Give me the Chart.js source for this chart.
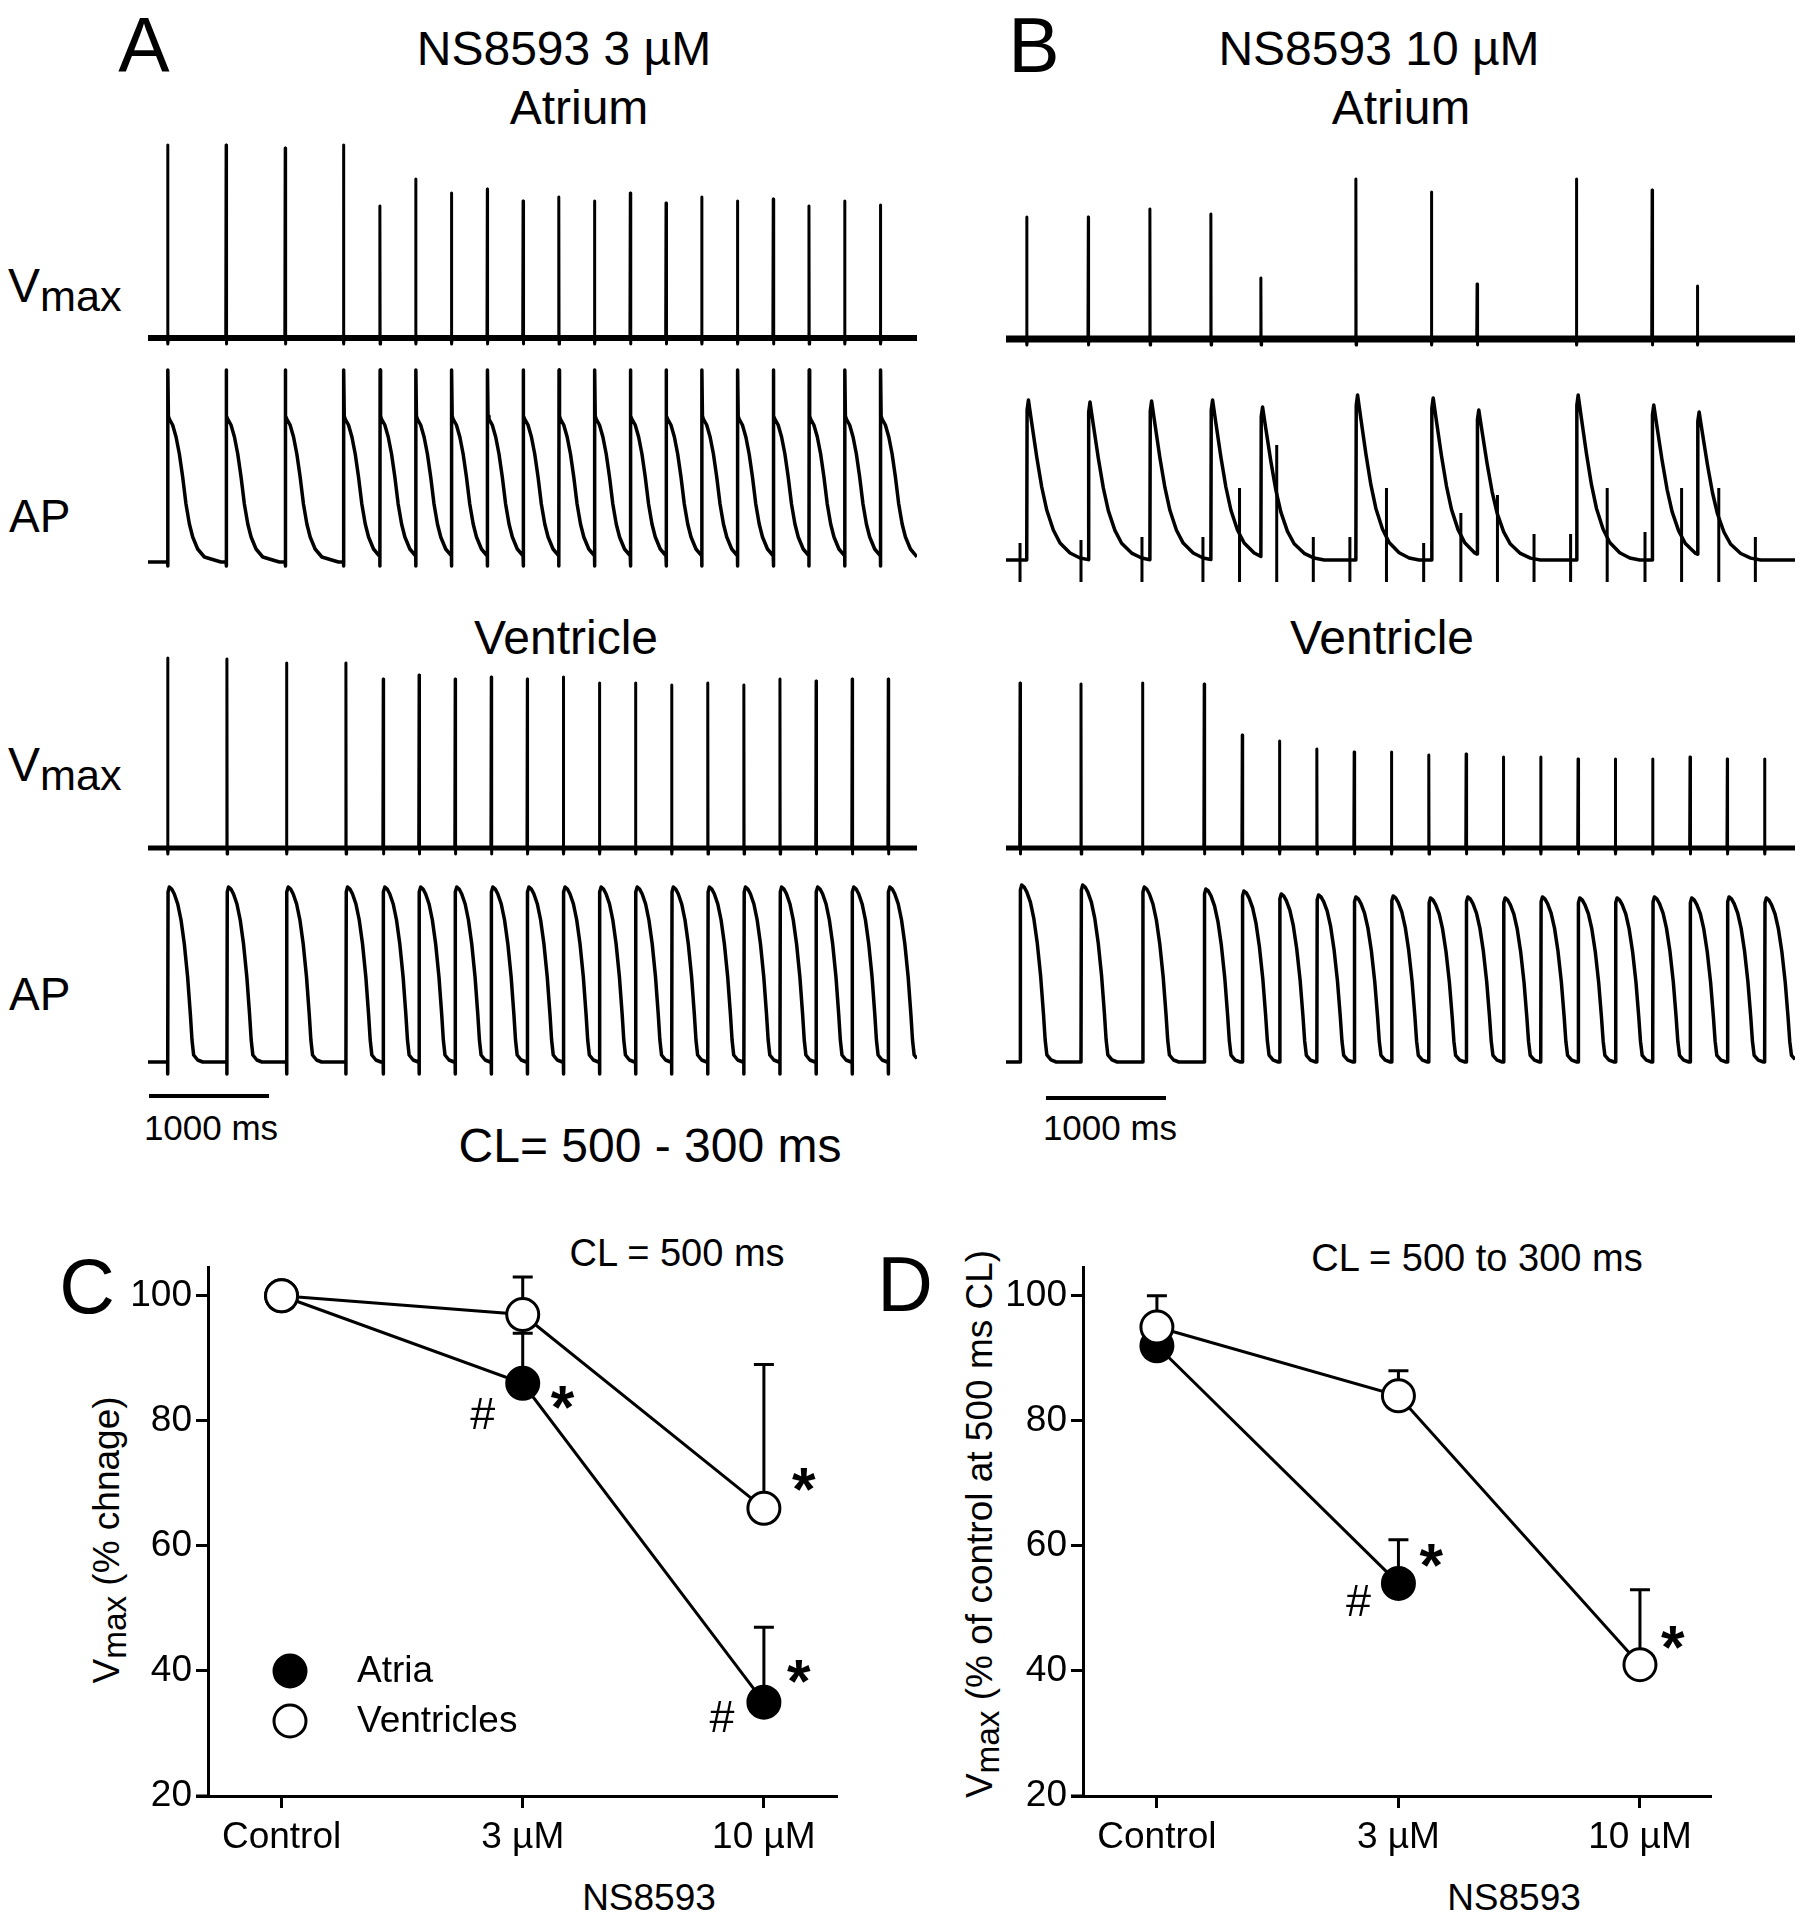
<!DOCTYPE html>
<html>
<head>
<meta charset="utf-8">
<title>NS8593 Vmax</title>
<script src="https://cdn.jsdelivr.net/npm/chart.js@4.4.1/dist/chart.umd.min.js"></script>
<style>
  body { margin: 0; background: #fff; }
  #fig { position: relative; width: 1808px; height: 1920px; overflow: hidden; background: #fff;
         font-family: "Liberation Sans", Arial, sans-serif; color: #000; }
  #fig canvas { position: absolute; }
  .t { position: absolute; white-space: nowrap; line-height: 1; }
  .c { transform: translate(-50%, -50%); }
  .r { transform: translate(-50%, -50%) rotate(-90deg); }
  .sub { font-size: 0.9em; position: relative; top: 0.2em; }
  .bar { position: absolute; height: 4px; background: #000; }
</style>
</head>
<body>
<div id="fig">
  <div class="t c" style="left:144px;top:45px;font-size:77px">A</div>
  <div class="t c" style="left:564px;top:49px;font-size:48px">NS8593 3 µM</div>
  <div class="t c" style="left:579px;top:108px;font-size:48px">Atrium</div>
  <div class="t c" style="left:1034px;top:45px;font-size:77px">B</div>
  <div class="t c" style="left:1379px;top:49px;font-size:48px">NS8593 10 µM</div>
  <div class="t c" style="left:1401px;top:108px;font-size:48px">Atrium</div>
  <div class="t c" style="left:566px;top:638px;font-size:48px">Ventricle</div>
  <div class="t c" style="left:1382px;top:638px;font-size:48px">Ventricle</div>

  <div class="t" style="left:8px;top:262px;font-size:48px">V<span class="sub">max</span></div>
  <div class="t" style="left:9px;top:493px;font-size:46px">AP</div>
  <div class="t" style="left:8px;top:741px;font-size:48px">V<span class="sub">max</span></div>
  <div class="t" style="left:9px;top:971px;font-size:46px">AP</div>

  <div class="bar" style="left:149px;top:1094px;width:120px"></div>
  <div class="t c" style="left:211px;top:1127px;font-size:35px">1000 ms</div>
  <div class="bar" style="left:1046px;top:1096px;width:120px"></div>
  <div class="t c" style="left:1110px;top:1127px;font-size:35px">1000 ms</div>
  <div class="t c" style="left:650px;top:1146px;font-size:48px">CL= 500 - 300 ms</div>

  <div class="t c" style="left:87px;top:1286px;font-size:77px">C</div>
  <div class="t c" style="left:905px;top:1284px;font-size:77px">D</div>
  <div class="t c" style="left:677px;top:1253px;font-size:38px">CL = 500 ms</div>
  <div class="t c" style="left:1477px;top:1258px;font-size:38px">CL = 500 to 300 ms</div>
  <div class="t c" style="left:649px;top:1897px;font-size:37px">NS8593</div>
  <div class="t c" style="left:1514px;top:1897px;font-size:37px">NS8593</div>
  <div class="t r" style="left:106px;top:1540px;font-size:37px">V<span class="sub">max</span> (% chnage)</div>
  <div class="t r" style="left:979px;top:1524px;font-size:37px">V<span class="sub">max</span> (% of control at 500 ms CL)</div>
</div>

<script>
// ---- traces: times in ms from the left end of each trace, heights in px above baseline ----
// A, NS8593 3 µM
const aAtrBeats = [167, 662, 1163, 1658, 1966, 2270, 2573, 2877, 3180, 3483, 3786, 4089, 4392, 4695, 4998, 5301, 5604, 5907, 6210];
const aAtrVmax = [193, 193, 190, 193, 132, 159, 145, 149, 137, 141, 137, 145, 135, 141, 137, 139, 132, 137, 133];
const aVenBeats = [167, 669, 1175, 1678, 1994, 2298, 2604, 2910, 3216, 3522, 3828, 4134, 4440, 4746, 5052, 5358, 5664, 5970, 6276];
const aVenVmax = [190, 189, 185, 185, 169, 173, 169, 171, 169, 171, 165, 165, 163, 165, 163, 169, 167, 169, 169];

// B, NS8593 10 µM
const bAtrStims = [115, 615, 1115, 1615, 1915, 2220, 2520, 2820, 3120, 3425, 3730, 4030, 4330, 4630, 4930, 5240, 5540, 5845, 6145];
const bAtrStimTop = [17, 20, 23, 23, 72, 115, 23, 23, 72, 17, 47, 65, 26, 26, 72, 28, 72, 72, 23];
const bAtrBeats = [170, 675, 1180, 1680, 2090, 2869, 3489, 3863, 4678, 5298, 5670];
const bAtrVmax = [122, 122, 130, 125, 61, 160, 147, 55, 160, 149, 53];
const bAtrApPeak = [160, 158, 159, 160, 153, 165, 162, 150, 165, 155, 148];
const bVenBeats = [115, 615, 1120, 1625, 1937, 2243, 2549, 2855, 3161, 3467, 3773, 4079, 4385, 4691, 4997, 5303, 5609, 5915, 6221];
const bVenVmax = [165, 164, 165, 164, 113, 107, 99, 96, 96, 93, 94, 91, 91, 89, 89, 89, 91, 89, 89];
const bVenApPeak = [177, 177, 175, 173, 171, 168, 167, 165, 166, 164, 165, 164, 165, 164, 164, 165, 164, 165, 164];

const aAtrTmplT = [0, 2, 6, 14, 42, 71, 99, 127, 155, 184, 212, 254, 311, 395, 452];
const aAtrTmplV = [0, 192, 146, 143, 137, 125, 108, 85, 58, 38, 25, 13, 5, 2, 0];
const bAtrTmplT = [0, 3, 14, 41, 82, 123, 164, 218, 273, 355, 437, 519];
const bAtrTmplV = [0, 150, 160, 137, 103, 73, 50, 30, 17, 7, 2, 0];
const venTmplT = [0, 3, 14, 34, 56, 85, 113, 141, 169, 192, 206, 220, 254, 297];
const venTmplV = [0, 170, 175, 173, 168, 158, 142, 118, 85, 48, 22, 7, 2, 0];

// ---- C / D summary ----
const doseLabels = ['Control', '3 µM', '10 µM'];
const cAtria = [100, 86, 35];
const cAtriaErr = [null, 94, 47];
const cVent = [100, 97, 66];
const cVentErr = [null, 103, 89];
const dAtria = [92, 54, null];
const dAtriaErr = [null, 61, null];
const dVent = [95, 84, 41];
const dVentErr = [100, 88, 53];

const FONT = '"Liberation Sans", Arial, sans-serif';
Chart.defaults.font.family = FONT;
Chart.defaults.color = '#000';

function interp(tt, vv, dt) {
  if (dt <= tt[0]) return vv[0];
  for (let k = 1; k < tt.length; k++) {
    if (dt <= tt[k]) {
      const f = (dt - tt[k - 1]) / (tt[k] - tt[k - 1]);
      return vv[k - 1] + f * (vv[k] - vv[k - 1]);
    }
  }
  return vv[vv.length - 1];
}

function spikeTrace(times, heights, tEnd) {
  const pts = [{x: 0, y: 0}];
  times.forEach((t, i) => {
    pts.push({x: t - 3, y: 0}, {x: t, y: heights[i]}, {x: t + 2, y: -6}, {x: t + 6, y: 0});
  });
  pts.push({x: tEnd, y: 0});
  return pts;
}

function apTrace(onsets, peaks, tT, tV, tEnd, dip) {
  const vTop = Math.max(...tV);
  const pts = [{x: 0, y: 0}];
  let prev = null;
  onsets.forEach((t0, i) => {
    const v0 = prev ? prev.s * interp(tT, tV, t0 - prev.t0) : 0;
    pts.push({x: t0, y: v0});
    if (dip) pts.push({x: t0, y: -dip});
    const s = peaks ? peaks[i] / vTop : 1;
    const next = i + 1 < onsets.length ? onsets[i + 1] : tEnd;
    for (let k = 1; k < tT.length; k++) {
      if (t0 + tT[k] >= next) break;
      pts.push({x: t0 + tT[k], y: s * tV[k]});
    }
    prev = {t0, s};
  });
  pts.push({x: tEnd, y: prev.s * interp(tT, tV, tEnd - prev.t0)});
  return pts;
}

function stimTrace(times, tops, bottom) {
  const pts = [];
  times.forEach((t, i) => pts.push({x: t, y: bottom}, {x: t, y: tops[i]}, {x: t, y: null}));
  return pts;
}

function makeCanvas(box) {
  const cv = document.createElement('canvas');
  cv.width = box.w;
  cv.height = box.h;
  cv.style.left = box.x + 'px';
  cv.style.top = box.y + 'px';
  document.getElementById('fig').appendChild(cv);
  return cv;
}

function line(data, width) {
  return {data, borderColor: '#000', borderWidth: width, pointRadius: 0, tension: 0,
          borderJoinStyle: 'round', fill: false, clip: false, spanGaps: false};
}

function traceChart(col, baseline, yMin, yMax, datasets) {
  const w = Math.round(col.tEnd * col.pxPerMs);
  const cv = makeCanvas({x: col.x0, y: baseline - yMax, w, h: yMax - yMin});
  new Chart(cv, {
    type: 'line',
    data: {datasets},
    options: {
      responsive: false, devicePixelRatio: 1, animation: false, events: [],
      layout: {padding: 0, autoPadding: false},
      plugins: {legend: {display: false}, tooltip: {enabled: false}},
      scales: {
        x: {type: 'linear', display: false, min: 0, max: col.tEnd},
        y: {type: 'linear', display: false, min: yMin, max: yMax}
      }
    }
  });
}

const colA = {x0: 148, pxPerMs: 0.118, tEnd: 6520};
const colB = {x0: 1006, pxPerMs: 0.122, tEnd: 6470};
const VMAX_Y = [-14, 206];
const AP_Y = [-28, 200];

// A
traceChart(colA, 338, ...VMAX_Y, [
  line([{x: 0, y: 0}, {x: colA.tEnd, y: 0}], 6),
  line(spikeTrace(aAtrBeats, aAtrVmax, colA.tEnd), 3)
]);
traceChart(colA, 562, ...AP_Y, [
  line(apTrace(aAtrBeats, null, aAtrTmplT, aAtrTmplV, colA.tEnd, 4), 3.5)
]);
traceChart(colA, 848, ...VMAX_Y, [
  line([{x: 0, y: 0}, {x: colA.tEnd, y: 0}], 5),
  line(spikeTrace(aVenBeats, aVenVmax, colA.tEnd), 3)
]);
traceChart(colA, 1062, ...AP_Y, [
  line(apTrace(aVenBeats, null, venTmplT, venTmplV, colA.tEnd, 12), 3.5)
]);

// B
traceChart(colB, 339, ...VMAX_Y, [
  line([{x: 0, y: 0}, {x: colB.tEnd, y: 0}], 7),
  line(spikeTrace(bAtrBeats, bAtrVmax, colB.tEnd), 3)
]);
traceChart(colB, 560, ...AP_Y, [
  line(stimTrace(bAtrStims, bAtrStimTop, -22), 3),
  line(apTrace(bAtrBeats, bAtrApPeak, bAtrTmplT, bAtrTmplV, colB.tEnd, 0), 3.5)
]);
traceChart(colB, 848, ...VMAX_Y, [
  line([{x: 0, y: 0}, {x: colB.tEnd, y: 0}], 5),
  line(spikeTrace(bVenBeats, bVenVmax, colB.tEnd), 3)
]);
traceChart(colB, 1062, ...AP_Y, [
  line(apTrace(bVenBeats, bVenApPeak, venTmplT, venTmplV, colB.tEnd, 0), 3.5)
]);

// ---- summary charts ----
function drawGlyph(ctx, ch, cx, cy, h, weight) {
  ctx.font = weight + ' 100px ' + FONT;
  const m = ctx.measureText(ch);
  const size = 100 * h / (m.actualBoundingBoxAscent + m.actualBoundingBoxDescent);
  ctx.font = weight + ' ' + size + 'px ' + FONT;
  const m2 = ctx.measureText(ch);
  ctx.textAlign = 'left';
  ctx.textBaseline = 'alphabetic';
  ctx.fillText(ch,
    cx - (m2.actualBoundingBoxRight - m2.actualBoundingBoxLeft) / 2,
    cy + (m2.actualBoundingBoxAscent - m2.actualBoundingBoxDescent) / 2);
}

const errorBars = {
  id: 'errBars',
  beforeDatasetsDraw(chart) {
    const {ctx, scales: {x, y}} = chart;
    ctx.save();
    ctx.strokeStyle = '#000';
    ctx.lineWidth = 3;
    chart.data.datasets.forEach(ds => {
      ds.err.forEach((top, i) => {
        if (top == null || ds.data[i].y == null) return;
        const px = x.getPixelForValue(i);
        const p0 = y.getPixelForValue(ds.data[i].y), p1 = y.getPixelForValue(top);
        ctx.beginPath();
        ctx.moveTo(px, p0); ctx.lineTo(px, p1);
        ctx.moveTo(px - 10, p1); ctx.lineTo(px + 10, p1);
        ctx.stroke();
      });
    });
    ctx.restore();
  }
};

const marks = {
  id: 'marks',
  afterDatasetsDraw(chart, args, opts) {
    const {ctx, chartArea, scales: {x, y}} = chart;
    ctx.save();
    ctx.strokeStyle = '#000';
    ctx.fillStyle = '#000';
    ctx.lineWidth = 3;
    ctx.beginPath();
    ctx.moveTo(chartArea.left - 12, chartArea.bottom);
    ctx.lineTo(chartArea.left, chartArea.bottom);
    ctx.stroke();
    opts.notes.forEach(n => {
      const ds = chart.data.datasets[n.ds];
      const px = x.getPixelForValue(n.i) + n.dx;
      const py = y.getPixelForValue(ds.data[n.i].y) + n.dy;
      if (n.text === '*') drawGlyph(ctx, '*', px, py, 23, 'bold');
      else drawGlyph(ctx, '#', px, py, 31, 'normal');
    });
    if (opts.legend) {
      opts.legend.forEach(item => {
        const ds = chart.data.datasets[item.ds];
        ctx.beginPath();
        ctx.arc(item.x, item.y, 16, 0, Math.PI * 2);
        ctx.fillStyle = ds.pointBackgroundColor;
        ctx.fill();
        ctx.stroke();
        ctx.fillStyle = '#000';
        ctx.font = '37px ' + FONT;
        ctx.textAlign = 'left';
        ctx.textBaseline = 'middle';
        ctx.fillText(ds.label, item.x + 67, item.y + 1);
      });
    }
    ctx.restore();
  }
};

function doseChart(o) {
  const cv = makeCanvas(o.box);
  const pts = arr => arr.map((v, i) => ({x: i, y: v}));
  const series = (label, vals, err, fillCol, order) => ({
    label, data: pts(vals), err, order,
    borderColor: '#000', borderWidth: 3, tension: 0, fill: false, spanGaps: false,
    pointRadius: 16, pointBorderWidth: 3, pointBorderColor: '#000', pointBackgroundColor: fillCol
  });
  const axisStyle = {
    border: {display: true, color: '#000', width: 3},
    grid: {drawOnChartArea: false, drawTicks: true, tickLength: 12, color: '#000', lineWidth: 3}
  };
  new Chart(cv, {
    type: 'line',
    data: {datasets: [
      series('Ventricles', o.vent, o.ventErr, '#fff', 1),
      series('Atria', o.atria, o.atriaErr, '#000', 2)
    ]},
    options: {
      responsive: false, devicePixelRatio: 1, animation: false, events: [],
      layout: {padding: {top: o.padTop, right: o.padRight, left: 0, bottom: 0}, autoPadding: false},
      plugins: {legend: {display: false}, tooltip: {enabled: false},
                marks: {notes: o.notes, legend: o.legend}},
      scales: {
        x: {type: 'linear', min: o.xMin, max: o.xMax, ...axisStyle,
            afterFit: s => { s.height = o.xH; },
            ticks: {stepSize: 1, includeBounds: false, autoSkip: false, maxRotation: 0, padding: 8,
                    font: {size: 37}, color: '#000', callback: v => doseLabels[v] ?? ''}},
        y: {type: 'linear', min: 20, max: o.yMax, ...axisStyle,
            afterFit: s => { s.width = o.yW; },
            ticks: {stepSize: 20, includeBounds: false, padding: 4, font: {size: 37}, color: '#000'}}
      }
    },
    plugins: [errorBars, marks]
  });
}

doseChart({
  box: {x: 0, y: 1200, w: 900, h: 720},
  padTop: 67, padRight: 64, yW: 208, xH: 124,
  xMin: -0.305, xMax: 2.299, yMax: 104.6,
  atria: cAtria, atriaErr: cAtriaErr, vent: cVent, ventErr: cVentErr,
  notes: [
    {ds: 1, i: 1, text: '#', dx: -40, dy: 30},
    {ds: 1, i: 1, text: '*', dx: 40, dy: 14},
    {ds: 0, i: 2, text: '*', dx: 40, dy: -29},
    {ds: 1, i: 2, text: '*', dx: 35, dy: -31},
    {ds: 1, i: 2, text: '#', dx: -42, dy: 14}
  ],
  legend: [{ds: 1, x: 290, y: 471}, {ds: 0, x: 290, y: 521}]
});

doseChart({
  box: {x: 940, y: 1200, w: 868, h: 720},
  padTop: 67, padRight: 98, yW: 143, xH: 124,
  xMin: -0.306, xMax: 2.29, yMax: 104.6,
  atria: dAtria, atriaErr: dAtriaErr, vent: dVent, ventErr: dVentErr,
  notes: [
    {ds: 1, i: 1, text: '*', dx: 33, dy: -28},
    {ds: 1, i: 1, text: '#', dx: -40, dy: 17},
    {ds: 0, i: 2, text: '*', dx: 33, dy: -27}
  ],
  legend: null
});
</script>
</body>
</html>
